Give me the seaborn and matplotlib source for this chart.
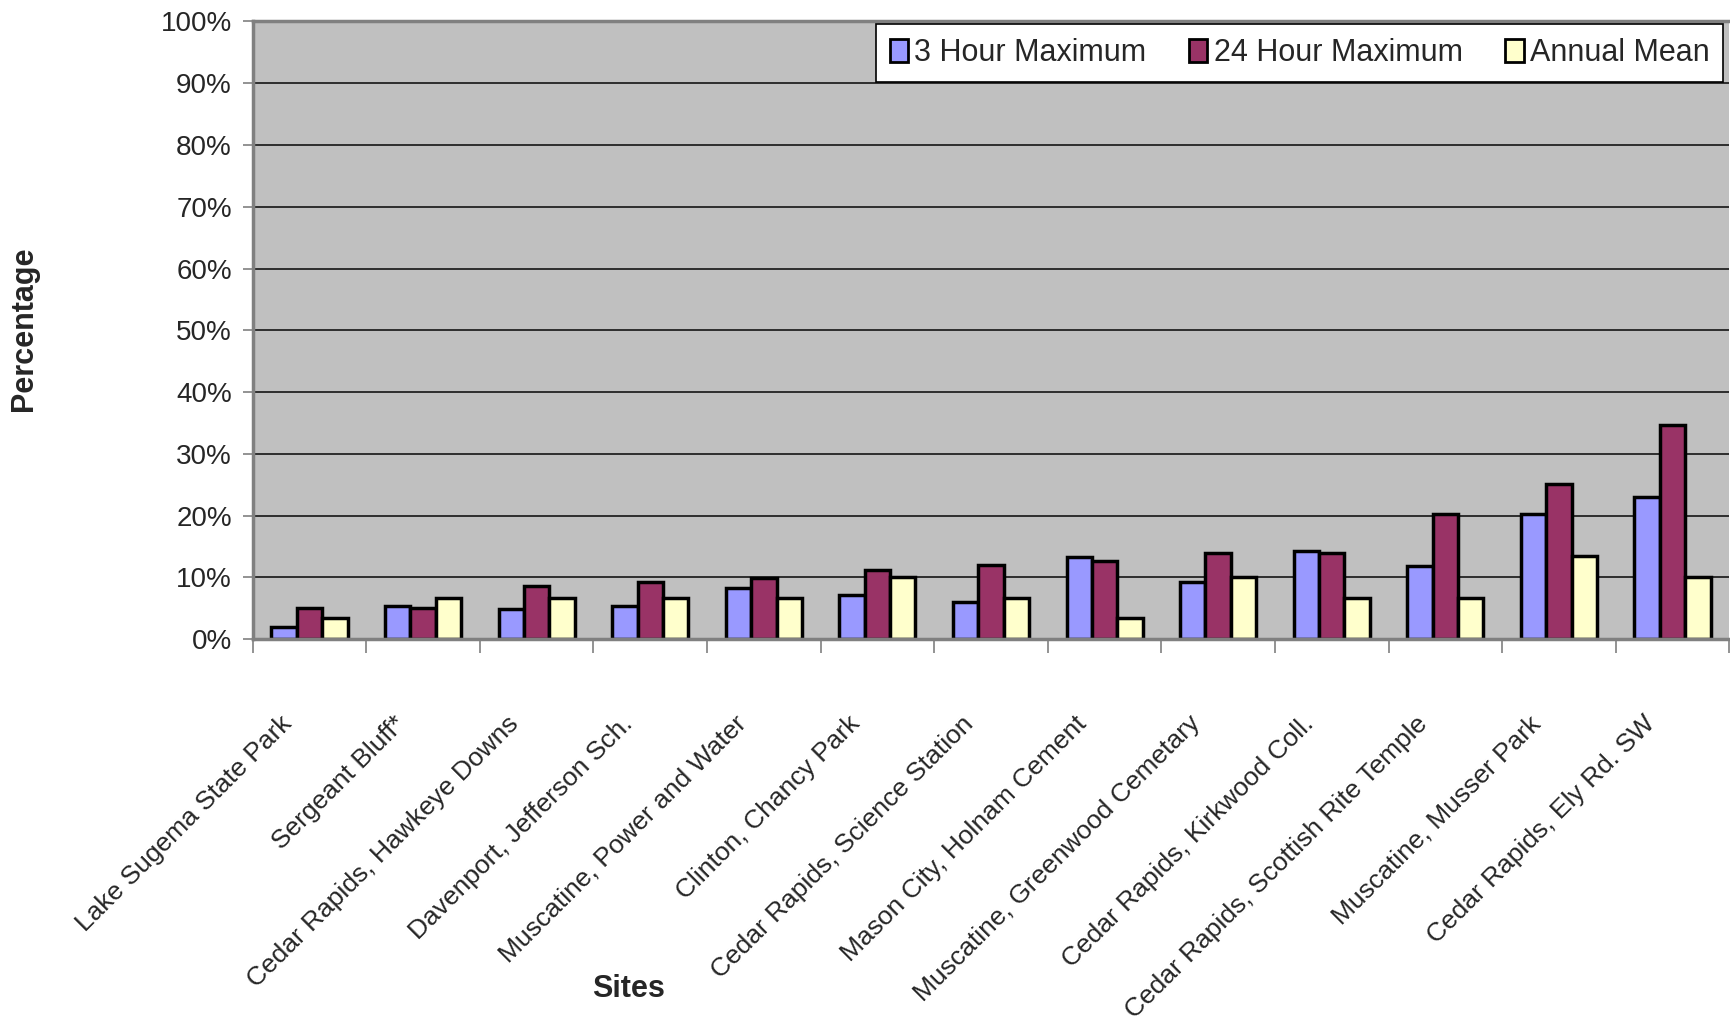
import numpy as np
import pandas as pd
import matplotlib
matplotlib.use('Agg')
import matplotlib.pyplot as plt
import matplotlib.transforms as mtransforms
import seaborn as sns
from matplotlib.patches import Patch
from matplotlib.ticker import FuncFormatter, FixedLocator

sites = ['Lake Sugema State Park', 'Sergeant Bluff*', 'Cedar Rapids, Hawkeye Downs',
         'Davenport, Jefferson Sch.', 'Muscatine, Power and Water', 'Clinton, Chancy Park',
         'Cedar Rapids, Science Station', 'Mason City, Holnam Cement',
         'Muscatine, Greenwood Cemetary', 'Cedar Rapids, Kirkwood Coll.',
         'Cedar Rapids, Scottish Rite Temple', 'Muscatine, Musser Park',
         'Cedar Rapids, Ely Rd. SW']
hour3_max = [1.9, 5.4, 4.9, 5.4, 8.2, 7.1, 6.0, 13.3, 9.2, 14.2, 11.9, 20.2, 23.0]
hour24_max = [5.0, 5.0, 8.6, 9.3, 9.9, 11.2, 12.0, 12.6, 14.0, 14.0, 20.2, 25.1, 34.7]
annual_mean = [3.4, 6.7, 6.7, 6.7, 6.7, 10.1, 6.7, 3.4, 10.1, 6.7, 6.7, 13.4, 10.1]
series = ['3 Hour Maximum', '24 Hour Maximum', 'Annual Mean']
colors = ['#9999FF', '#993366', '#FFFFCC']

df = pd.DataFrame({
    'Site': sites * 3,
    'Series': np.repeat(series, len(sites)),
    'Value': hour3_max + hour24_max + annual_mean,
})

sns.set_style('white')
plt.rcParams['font.family'] = ['Liberation Sans', 'DejaVu Sans']

fig = plt.figure(figsize=(17.31, 10.21), dpi=100)
ax = fig.add_axes([0.146, 0.374, 0.853, 0.605])
ax.set_facecolor('#C0C0C0')

sns.barplot(data=df, x='Site', y='Value', hue='Series', hue_order=series,
            palette=colors, width=0.67, gap=0, edgecolor='black', linewidth=2.5,
            saturation=1, legend=False, ax=ax)

ax.set_ylim(0, 100)
ax.set_xlim(-0.5, len(sites) - 0.5)
ax.set_yticks(np.arange(0, 101, 10))
ax.yaxis.set_major_formatter(FuncFormatter(lambda v, p: f'{int(v)}%'))
ax.yaxis.grid(True, color='#222222', linewidth=1.3)
ax.set_axisbelow(True)
ax.tick_params(axis='y', labelsize=20, length=7, width=1.2, color='#808080', left=True, pad=8)

ax.set_xticks(range(len(sites)))
ax.set_xticklabels(sites, rotation=45, ha='right', va='top', rotation_mode='anchor', fontsize=19)
ax.tick_params(axis='x', which='major', length=0, pad=52)
shift = mtransforms.ScaledTranslation(-0.3, 0, fig.dpi_scale_trans)
for lbl in ax.get_xticklabels():
    lbl.set_transform(lbl.get_transform() + shift)
ax.xaxis.set_minor_locator(FixedLocator(np.arange(-0.5, len(sites), 1)))
ax.tick_params(axis='x', which='minor', length=10, width=1.2, color='#808080', bottom=True)

for s in ['left', 'bottom', 'top']:
    ax.spines[s].set_color('#808080')
    ax.spines[s].set_linewidth(2.5)
ax.spines['right'].set_visible(False)

ax.set_ylabel('')
ax.set_xlabel('')
fig.text(0.014, 0.678, 'Percentage', fontsize=22, fontweight='bold', rotation=90,
         ha='center', va='center')
fig.text(0.363, 0.031, 'Sites', fontsize=22, fontweight='bold', ha='center', va='center')

handles = [Patch(facecolor=c, edgecolor='black', linewidth=2) for c in colors]
leg = ax.legend(handles, series, ncol=3, loc='upper right', bbox_to_anchor=(0.998, 1.0),
                fontsize=22, frameon=True, fancybox=False, handlelength=0.6,
                handleheight=0.8, handletextpad=0.2, columnspacing=1.4, borderpad=0.45,
                borderaxespad=0.1)
leg.get_frame().set_edgecolor('black')
leg.get_frame().set_linewidth(1.2)
leg.get_frame().set_facecolor('white')
leg.get_frame().set_alpha(1)

fig.savefig('out.png', dpi=100)
